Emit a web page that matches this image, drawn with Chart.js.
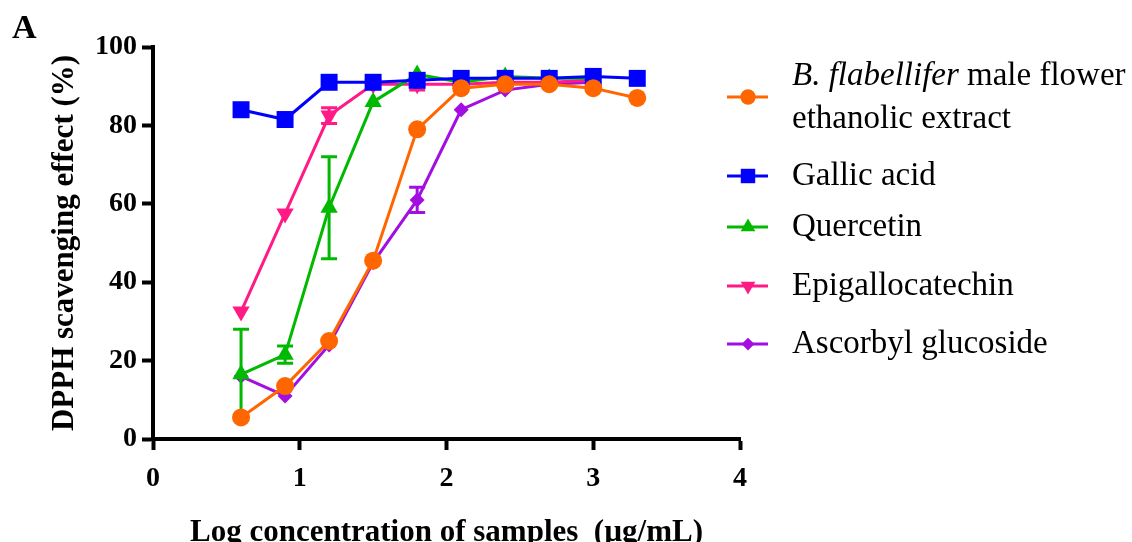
<!DOCTYPE html>
<html>
<head>
<meta charset="utf-8">
<script src="https://cdn.jsdelivr.net/npm/chart.js@4.4.1/dist/chart.umd.min.js"></script>
<style>
    body { margin: 0; background: #fff; }
    #wrap { width: 1132px; height: 542px; }
</style>
</head>
<body>
<div id="wrap"><canvas id="dpph" width="1132" height="542"></canvas></div>
<script>
// log concentration (µg/mL)
const logConc = [0.6, 0.9, 1.2, 1.5, 1.8, 2.1, 2.4, 2.7, 3.0, 3.3];

const labels = [
    "B. flabellifer male flower ethanolic extract",
    "Gallic acid",
    "Quercetin",
    "Epigallocatechin",
    "Ascorbyl glucoside"
];

// DPPH scavenging effect (%)
const extractVals   = [5.5, 13.5, 25, 45.5, 79, 89.5, 90.5, 90.5, 89.5, 87];
const gallicVals    = [84, 81.5, 91, 91, 91.5, 92, 92, 92, 92.5, 92];
const quercetinVals = [16.5, 21.5, 59, 86, 93, 91, 92.5, 92, 92];
const egcVals       = [32.5, 57.5, 82.5, 90.5, 90.5, 90.5, 91, 91, 91.5];
const ascorbylVals  = [16, 11, 24, 45, 61, 84, 89, 90.5, 91];

// standard deviations (0 = bar hidden by the symbol)
const extractErr   = [0, 0, 0, 0, 0, 0, 0, 0, 0, 0];
const gallicErr    = [0, 0, 0, 0, 0, 0, 0, 0, 0, 0];
const quercetinErr = [11.5, 2.2, 13, 0, 0, 0, 0, 0, 0];
const egcErr       = [0, 0, 2, 0, 1.5, 0, 0, 0, 0];
const ascorbylErr  = [0, 0, 0, 0, 3.2, 0, 0, 0, 0];

const xTicks = [0, 1, 2, 3, 4];
const yTicks = [0, 20, 40, 60, 80, 100];

const colors = ['#FF6600', '#0000FF', '#00B900', '#FF1A85', '#A20FE0'];
const styles = ['circle', 'rect', 'triangle', 'triangle', 'rectRot'];
const rotations = [0, 0, 0, 180, 0];
const radii = [9, 12, 10, 10, 7.5];

const legendLines = [
    ["B. flabellifer| male flower", "ethanolic extract"],
    ["Gallic acid"],
    ["Quercetin"],
    ["Epigallocatechin"],
    ["Ascorbyl glucoside"]
];

function pts(vals) {
    return vals.map((v, i) => ({ x: logConc[i], y: v }));
}

const allVals = [extractVals, gallicVals, quercetinVals, egcVals, ascorbylVals];
const allErr = [extractErr, gallicErr, quercetinErr, egcErr, ascorbylErr];

const datasets = labels.map((lab, i) => ({
    label: lab,
    data: pts(allVals[i]),
    errors: allErr[i],
    borderColor: colors[i],
    backgroundColor: colors[i],
    borderWidth: 3,
    pointStyle: styles[i],
    pointRotation: rotations[i],
    pointRadius: radii[i],
    pointBorderWidth: 0,
    tension: 0
}));

const SERIF = "'Liberation Serif', 'Times New Roman', serif";

// error bars drawn just before each dataset
const errorBars = {
    id: 'errorBars',
    beforeDatasetDraw(chart, args) {
        const ds = chart.data.datasets[args.index];
        if (!ds.errors) return;
        const ctx = chart.ctx;
        const ys = chart.scales.y;
        ctx.save();
        ctx.strokeStyle = ds.borderColor;
        ctx.lineWidth = 3;
        args.meta.data.forEach((p, i) => {
            const e = ds.errors[i];
            if (!e) return;
            const v = ds.data[i].y;
            const top = ys.getPixelForValue(v + e);
            const bot = ys.getPixelForValue(v - e);
            ctx.beginPath();
            ctx.moveTo(p.x, top); ctx.lineTo(p.x, bot);
            ctx.moveTo(p.x - 8, top); ctx.lineTo(p.x + 8, top);
            ctx.moveTo(p.x - 8, bot); ctx.lineTo(p.x + 8, bot);
            ctx.stroke();
        });
        ctx.restore();
    }
};

// legend at right + panel letter
const sideLegend = {
    id: 'sideLegend',
    afterDraw(chart) {
        const ctx = chart.ctx;
        const rows = [[76, 119], [176], [227], [286], [344]];
        const markY = [97, 176, 227, 286, 344];
        ctx.save();
        ctx.fillStyle = '#000';
        ctx.font = 'bold 34px ' + SERIF;
        ctx.textBaseline = 'middle';
        ctx.fillText('A', 12, 29);

        chart.data.datasets.forEach((ds, i) => {
            const my = markY[i];
            ctx.strokeStyle = ds.borderColor;
            ctx.fillStyle = ds.borderColor;
            ctx.lineWidth = 3;
            ctx.beginPath();
            ctx.moveTo(727, my); ctx.lineTo(768, my);
            ctx.stroke();
            Chart.helpers.drawPoint(ctx, {
                pointStyle: ds.pointStyle,
                rotation: ds.pointRotation,
                radius: ds.pointRadius * 0.85,
                borderWidth: 0
            }, 748, my);

            ctx.fillStyle = '#000';
            legendLines[i].forEach((line, j) => {
                let x = 792;
                const y = rows[i][j];
                const parts = line.split('|');
                if (parts.length > 1) {
                    ctx.font = 'italic 33px ' + SERIF;
                    ctx.fillText(parts[0], x, y);
                    x += ctx.measureText(parts[0]).width;
                    ctx.font = '33px ' + SERIF;
                    ctx.fillText(parts[1], x, y);
                } else {
                    ctx.font = '33px ' + SERIF;
                    ctx.fillText(line, x, y);
                }
            });
        });
        ctx.restore();
    }
};

new Chart(document.getElementById('dpph'), {
    type: 'line',
    data: { datasets: datasets },
    plugins: [errorBars, sideLegend],
    options: {
        responsive: false,
        animation: false,
        layout: {
            padding: { left: 0, right: 392, top: 47, bottom: 0 }
        },
        plugins: {
            legend: { display: false },
            tooltip: { enabled: false }
        },
        scales: {
            x: {
                type: 'linear',
                min: 0,
                max: 4,
                afterFit: (s) => { s.height = 103; },
                afterBuildTicks: (s) => { s.ticks = xTicks.map(v => ({ value: v })); },
                grid: {
                    drawOnChartArea: false,
                    drawTicks: true,
                    tickLength: 11,
                    tickWidth: 4,
                    tickColor: '#000'
                },
                border: { display: true, color: '#000', width: 4 },
                ticks: {
                    color: '#000',
                    padding: 12,
                    maxRotation: 0,
                    font: { family: SERIF, size: 28, weight: 'bold' }
                },
                title: {
                    display: true,
                    text: 'Log concentration of samples  (µg/mL)',
                    color: '#000',
                    padding: { top: 0, bottom: 0 },
                    font: { family: SERIF, size: 31, weight: 'bold', lineHeight: 0.6 }
                }
            },
            y: {
                min: 0,
                max: 100,
                afterFit: (s) => { s.width = 153; },
                afterBuildTicks: (s) => { s.ticks = yTicks.map(v => ({ value: v })); },
                grid: {
                    drawOnChartArea: false,
                    drawTicks: true,
                    tickLength: 11,
                    tickWidth: 4,
                    tickColor: '#000'
                },
                border: { display: true, color: '#000', width: 4 },
                ticks: {
                    color: '#000',
                    padding: 5,
                    font: { family: SERIF, size: 28, weight: 'bold' }
                },
                title: {
                    display: true,
                    text: 'DPPH scavenging effect (%)',
                    color: '#000',
                    padding: { top: 46, bottom: 0 },
                    font: { family: SERIF, size: 31, weight: 'bold' }
                }
            }
        }
    }
});
</script>
</body>
</html>
